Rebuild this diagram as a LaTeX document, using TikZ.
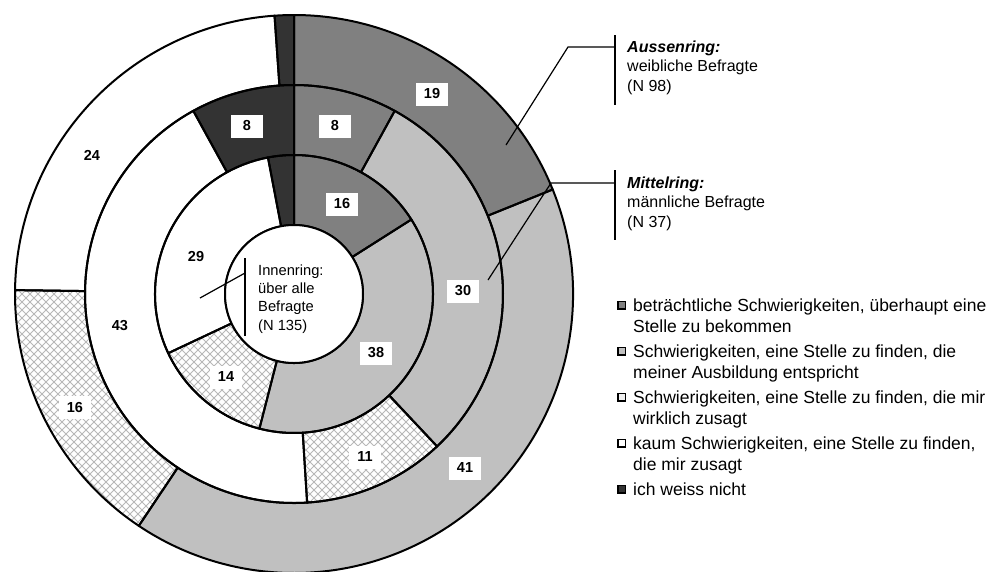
\documentclass[tikz,border=0pt]{standalone}
\usepackage{fontspec}
\setmainfont{Liberation Sans}
\definecolor{cdg}{HTML}{808080}
\definecolor{clg}{HTML}{C0C0C0}
\definecolor{cdk}{HTML}{333333}
\definecolor{chatch}{HTML}{B8B8B8}
\newcommand\segfill[5]{\fill[#5] (#1:#4) arc[start angle=#1,end angle=#2,radius=#4] -- (#2:#3) arc[start angle=#2,end angle=#1,radius=#3] -- cycle;}
\newcommand\segline[4]{\draw[seg] (#1:#4) arc[start angle=#1,end angle=#2,radius=#4] -- (#2:#3) arc[start angle=#2,end angle=#1,radius=#3] -- cycle;}
\newcommand\seghatch[4]{\begin{scope}
  \clip (#1:#4) arc[start angle=#1,end angle=#2,radius=#4] -- (#2:#3) arc[start angle=#2,end angle=#1,radius=#3] -- cycle;
  \foreach \c in {-576,-568,...,576}{\draw[hatchline] ({\c-300},-300) -- ({\c+300},300); \draw[hatchline] ({\c-300},300) -- ({\c+300},-300);}
\end{scope}}
\begin{document}
\begin{tikzpicture}[x=1pt,y=1pt,
  seg/.style={draw=black,line width=2pt,line join=round},
  hatchline/.style={draw=chatch,line width=0.9pt},
  numbox/.style={fill=white,minimum width=32pt,minimum height=23pt,inner sep=0pt,font=\fontsize{14.5}{17}\selectfont\bfseries},
  lead/.style={draw=black,line width=1.2pt},
  bar/.style={draw=black,line width=1.6pt},
  legbox/.style={draw=black,line width=1.5pt,minimum size=7.5pt,inner sep=0pt},
  legtext/.style={anchor=base west,inner sep=0pt,font=\fontsize{17.5}{21}\selectfont},
  sidetext/.style={anchor=base west,inner sep=0pt,font=\fontsize{16}{19}\selectfont},
  inntext/.style={anchor=base west,inner sep=0pt,font=\fontsize{14.7}{18}\selectfont}]
\useasboundingbox (0,0) rectangle (998,-571);
\fill[white] (0,0) rectangle (998,-571);
\begin{scope}[shift={(294,-294)}]
  % fills: outer ring
  \segfill{90}{22}{209}{279}{cdg}
  \segfill{22}{-123.8}{209}{279}{clg}
  \segfill{-123.8}{-180.8}{209}{279}{white}
  \seghatch{-123.8}{-180.8}{209}{279}
  \segfill{-180.8}{-266}{209}{279}{white}
  \segfill{-266}{-270}{209}{279}{cdk}
  % middle ring
  \segfill{90}{61.2}{139}{209}{cdg}
  \segfill{61.2}{-46.8}{139}{209}{clg}
  \segfill{-46.8}{-86.4}{139}{209}{white}
  \seghatch{-46.8}{-86.4}{139}{209}
  \segfill{-86.4}{-241.2}{139}{209}{white}
  \segfill{-241.2}{-270}{139}{209}{cdk}
  % inner ring
  \segfill{90}{32.4}{69}{139}{cdg}
  \segfill{32.4}{-104.4}{69}{139}{clg}
  \segfill{-104.4}{-154.8}{69}{139}{white}
  \seghatch{-104.4}{-154.8}{69}{139}
  \segfill{-154.8}{-259.2}{69}{139}{white}
  \segfill{-259.2}{-270}{69}{139}{cdk}
  % outlines
  \segline{90}{22}{209}{279}
  \segline{22}{-123.8}{209}{279}
  \segline{-123.8}{-180.8}{209}{279}
  \segline{-180.8}{-266}{209}{279}
  \segline{-266}{-270}{209}{279}
  \segline{90}{61.2}{139}{209}
  \segline{61.2}{-46.8}{139}{209}
  \segline{-46.8}{-86.4}{139}{209}
  \segline{-86.4}{-241.2}{139}{209}
  \segline{-241.2}{-270}{139}{209}
  \segline{90}{32.4}{69}{139}
  \segline{32.4}{-104.4}{69}{139}
  \segline{-104.4}{-154.8}{69}{139}
  \segline{-154.8}{-259.2}{69}{139}
  \segline{-259.2}{-270}{69}{139}
  \draw[seg,fill=white] (0,0) circle[radius=69];
\end{scope}
% value labels
\node[numbox] (i16) at (342,-204) {16};
\node[numbox] (i38) at (376,-353) {38};
\node[numbox] (i14) at (226,-377) {14};
\node[numbox] (i29) at (196,-257) {29};
\node[numbox] (m8a) at (335,-126) {8};
\node[numbox] (m30) at (463,-291) {30};
\node[numbox] (m11) at (365,-457) {11};
\node[numbox] (m43) at (120,-326) {43};
\node[numbox] (m8b) at (247,-126) {8};
\node[numbox] (o19) at (432,-94) {19};
\node[numbox] (o41) at (465,-468) {41};
\node[numbox] (o16) at (75,-407) {16};
\node[numbox] (o24) at (92,-155) {24};
% Innenring
\coordinate (il1) at (200,-298);
\coordinate (il2) at (245,-273);
\coordinate (ib1) at (245,-258);
\coordinate (ib2) at (245,-336);
\draw[lead] (il1) -- (il2);
\draw[bar] (ib1) -- (ib2);
\node[inntext] (in1) at (258,-275) {Innenring:};
\node[inntext] (in2) at (258,-293.3) {über alle};
\node[inntext] (in3) at (258,-311.6) {Befragte};
\node[inntext] (in4) at (258,-330) {(N 135)};
% Aussenring
\coordinate (al1) at (506,-145);
\coordinate (al2) at (568,-47);
\coordinate (al3) at (615,-47);
\coordinate (ab1) at (615,-35);
\coordinate (ab2) at (615,-105);
\draw[lead] (al1) -- (al2) -- (al3);
\draw[bar] (ab1) -- (ab2);
\node[sidetext] (at1) at (627,-52) {\textbf{\textit{Aussenring:}}};
\node[sidetext] (at2) at (627,-71.5) {weibliche Befragte};
\node[sidetext] (at3) at (627,-91) {(N 98)};
% Mittelring
\coordinate (ml1) at (488,-280);
\coordinate (ml2) at (551,-183);
\coordinate (ml3) at (615,-183);
\coordinate (mb1) at (615,-170);
\coordinate (mb2) at (615,-240);
\draw[lead] (ml1) -- (ml2) -- (ml3);
\draw[bar] (mb1) -- (mb2);
\node[sidetext] (mt1) at (627,-188) {\textbf{\textit{Mittelring:}}};
\node[sidetext] (mt2) at (627,-207.5) {männliche Befragte};
\node[sidetext] (mt3) at (627,-227) {(N 37)};
% legend
\node[legbox,fill=cdg] (lb1) at (621.5,-305) {};
\node[legtext] (lt1a) at (633,-311) {beträchtliche Schwierigkeiten, überhaupt eine};
\node[legtext] (lt1b) at (633,-332) {Stelle zu bekommen};
\node[legbox,fill=clg] (lb2) at (621.5,-351) {};
\node[legtext] (lt2a) at (633,-357) {Schwierigkeiten, eine Stelle zu finden, die};
\node[legtext] (lt2b) at (633,-378) {meiner Ausbildung entspricht};
\node[legbox,fill=gray!12] (lb3) at (621.5,-397) {};
\node[legtext] (lt3a) at (633,-403) {Schwierigkeiten, eine Stelle zu finden, die mir};
\node[legtext] (lt3b) at (633,-424) {wirklich zusagt};
\node[legbox,fill=white] (lb4) at (621.5,-443) {};
\node[legtext] (lt4a) at (633,-449) {kaum Schwierigkeiten, eine Stelle zu finden,};
\node[legtext] (lt4b) at (633,-470) {die mir zusagt};
\node[legbox,fill=cdk] (lb5) at (621.5,-489) {};
\node[legtext] (lt5a) at (633,-495) {ich weiss nicht};
\end{tikzpicture}
\end{document}
